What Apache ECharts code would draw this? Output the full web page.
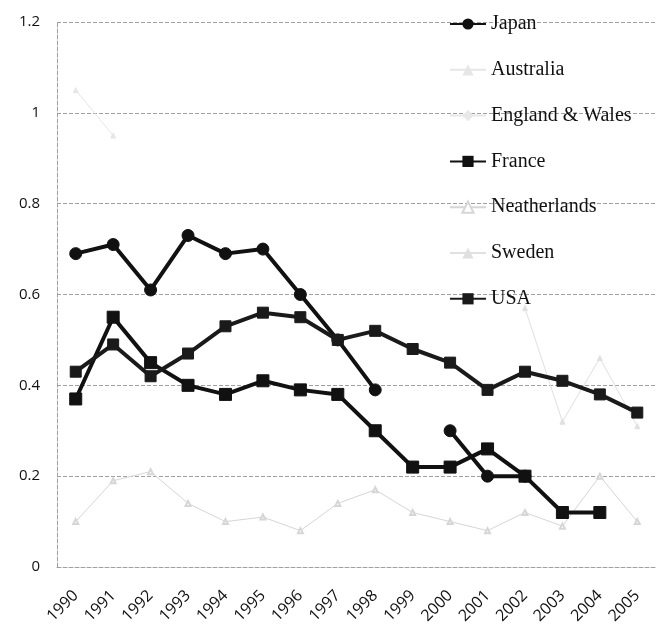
<!DOCTYPE html>
<html>
<head>
<meta charset="utf-8">
<script src="https://cdn.jsdelivr.net/npm/echarts@6/dist/echarts.min.js"></script>
<style>html,body{margin:0;padding:0;background:#fff}#c{width:668px;height:627px}</style>
</head>
<body>
<div id="c"></div>
<script>
const years = ['1990','1991','1992','1993','1994','1995','1996','1997','1998','1999','2000','2001','2002','2003','2004','2005'];
const yTicks = [0, 0.2, 0.4, 0.6, 0.8, 1.0, 1.2];
const japan     = [0.69,0.71,0.61,0.73,0.69,0.70,0.60,0.50,0.39,null,0.30,0.20,0.20,null,null,null];
const australia = [1.05,0.95,null,null,null,null,null,null,null,null,null,null,null,null,null,null];
const england   = [null,null,null,null,null,null,null,null,null,null,null,null,null,null,null,null];
const france    = [0.37,0.55,0.45,0.40,0.38,0.41,0.39,0.38,0.30,0.22,0.22,0.26,0.20,0.12,0.12,null];
const netherlands = [0.10,0.19,0.21,0.14,0.10,0.11,0.08,0.14,0.17,0.12,0.10,0.08,0.12,0.09,0.20,0.10];
const sweden    = [null,null,null,null,null,null,null,null,null,null,null,null,0.57,0.32,0.46,0.31];
const usa       = [0.43,0.49,0.42,0.47,0.53,0.56,0.55,0.50,0.52,0.48,0.45,0.39,0.43,0.41,0.38,0.34];

const chart = echarts.init(document.getElementById('c'), null, {renderer:'canvas'});
function s(name, data, color, symbol, size, width) {
  return {name, type:'line', data, symbol, symbolSize:size, showSymbol:true,
    connectNulls:false,
    lineStyle:{color, width}, itemStyle:{color, borderColor:color}, z: width>2?3:2};
}
chart.setOption({
  animation:false,
  backgroundColor:'#fff',
  grid:{left:57, right:12, top:22, bottom:60},
  legend:{
    orient:'vertical', left:449, top:14, padding:0, itemGap:25.8, itemWidth:36, itemHeight:14,
    backgroundColor:'transparent',
    textStyle:{fontFamily:'Liberation Serif', fontSize:20, lineHeight:20, color:'#111'},
    data:['Japan','Australia','England & Wales','France','Neatherlands','Sweden','USA']
  },
  xAxis:{type:'category', data:years, boundaryGap:true,
    axisLine:{show:true, lineStyle:{color:'#a0a0a0', type:'dashed', width:1}},
    axisTick:{show:false},
    axisLabel:{rotate:45, fontFamily:'Open Sans', fontSize:16, color:'#111', margin:26, interval:0}
  },
  yAxis:{type:'value', min:0, max:1.2, interval:0.2,
    axisLine:{show:true, lineStyle:{color:'#a0a0a0', type:'dashed', width:1}},
    axisTick:{show:false},
    splitLine:{show:true, lineStyle:{color:'#a0a0a0', type:'dashed', width:1}},
    axisLabel:{fontFamily:'Open Sans', fontSize:15, color:'#111', margin:17,
      formatter: v => { const t = yTicks.find(x=>Math.abs(x-v)<1e-6); return t===undefined? '' : String(+t.toFixed(1)); }}
  },
  series:[
    s('Japan', japan, '#111', 'circle', 12, 4),
    s('Australia', australia, '#e6e6e6', 'triangle', 5, 1),
    s('England & Wales', england, '#e8e8e8', 'diamond', 5, 1),
    s('France', france, '#111', 'rect', 12, 4),
    s('Neatherlands', netherlands, '#d6d6d6', 'emptyTriangle', 5, 1),
    s('Sweden', sweden, '#e0e0e0', 'triangle', 5, 1),
    s('USA', usa, '#1a1a1a', 'rect', 11, 4)
  ]
});
</script>
</body>
</html>
